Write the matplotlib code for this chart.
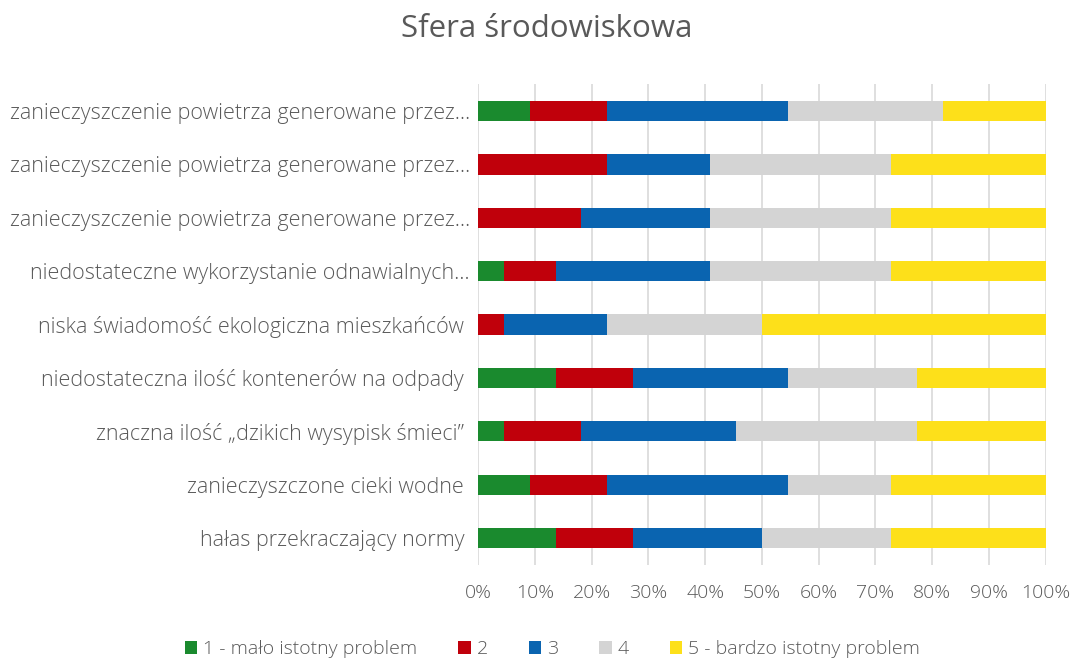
import matplotlib.pyplot as plt
import numpy as np

# categories, top to bottom as in the chart
categories = [
    "zanieczyszczenie powietrza generowane przez…",
    "zanieczyszczenie powietrza generowane przez…",
    "zanieczyszczenie powietrza generowane przez…",
    "niedostateczne wykorzystanie odnawialnych…",
    "niska świadomość ekologiczna mieszkańców ",
    "niedostateczna ilość kontenerów na odpady ",
    "znaczna ilość „dzikich wysypisk śmieci” ",
    "zanieczyszczone cieki wodne ",
    "hałas przekraczający normy ",
]

# answer counts per category (22 respondents)
s1 = [2, 0, 0, 1, 0, 3, 1, 2, 3]
s2 = [3, 5, 4, 2, 1, 3, 3, 3, 3]
s3 = [7, 4, 5, 6, 4, 6, 6, 7, 5]
s4 = [6, 7, 7, 7, 6, 5, 7, 4, 5]
s5 = [4, 6, 6, 6, 11, 5, 5, 6, 6]

series_names = ["1 - mało istotny problem", "2", "3", "4", "5 - bardzo istotny problem"]
colors = ["#1a8a2e", "#c0000b", "#0a64b0", "#d4d4d4", "#fde01a"]

data = np.array([s1, s2, s3, s4, s5], dtype=float)
shares = data / data.sum(axis=0)

plt.rcParams['font.family'] = ['Open Sans', 'DejaVu Sans']
plt.rcParams['font.weight'] = 'light'
txt = "#595959"

fig = plt.figure(figsize=(10.77, 6.59), dpi=100)
ax = fig.add_axes([0.444, 0.143, 0.527, 0.729])

y = np.arange(len(categories))
left = np.zeros(len(categories))
for vals, name, c in zip(shares, series_names, colors):
    ax.barh(y, vals, left=left, height=0.38, color=c, label=name, zorder=3)
    left += vals

ax.set_ylim(len(categories) - 0.5, -0.5)
ax.set_xlim(0, 1)
ax.set_xticks(np.linspace(0, 1, 11))
ax.set_xticklabels([f"{int(round(v * 100))}%" for v in np.linspace(0, 1, 11)])
ax.set_yticks(y)
ax.set_yticklabels(categories)
ax.grid(axis="x", color="#d9d9d9", linewidth=1.2, zorder=0)
for s in ax.spines.values():
    s.set_visible(False)
ax.tick_params(axis="x", length=0, labelsize=14, colors=txt, pad=14)
ax.tick_params(axis="y", length=0, labelsize=15.5, colors=txt, pad=6)

fig.suptitle("Sfera środowiskowa", fontsize=22.5, color=txt, x=0.508, y=0.978)

fig.legend(loc="lower center", bbox_to_anchor=(0.513, -0.025), ncol=5, frameon=False,
           fontsize=14, labelcolor=txt, handlelength=0.65, handleheight=0.65,
           handletextpad=0.3, columnspacing=2.1)

fig.savefig("out.png", dpi=100)
